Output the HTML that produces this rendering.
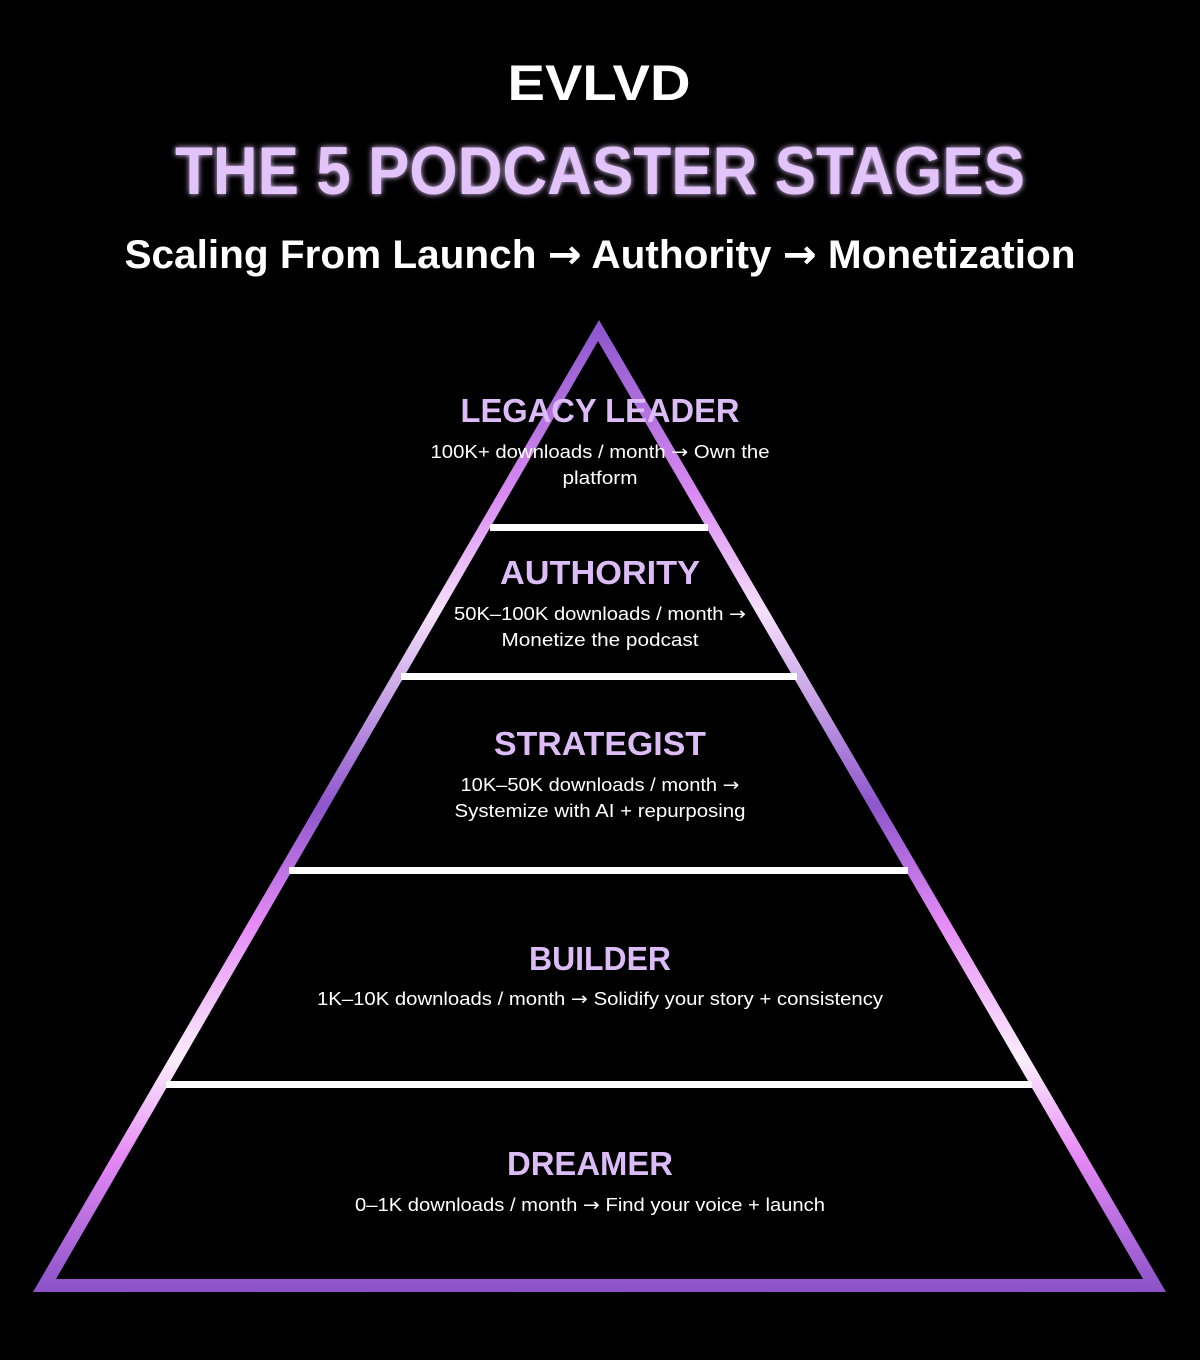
<!DOCTYPE html>
<html><head><meta charset="utf-8"><style>
html,body{margin:0;padding:0;background:#000;}
svg{display:block;}
text{font-family:"Liberation Sans","DejaVu Sans",sans-serif;}
.a{font-family:"DejaVu Sans",sans-serif;}
</style></head><body>
<svg width="1200" height="1360" viewBox="0 0 1200 1360" xmlns="http://www.w3.org/2000/svg">
<defs>
<linearGradient id="g" x1="0" y1="320" x2="0" y2="1292" gradientUnits="userSpaceOnUse">
<stop offset="0" stop-color="#8a55cc"/>
<stop offset="0.18" stop-color="#d98af2"/>
<stop offset="0.3" stop-color="#f6e0fb"/>
<stop offset="0.5" stop-color="#8d56cc"/>
<stop offset="0.62" stop-color="#e58af7"/>
<stop offset="0.76" stop-color="#fbeefd"/>
<stop offset="0.86" stop-color="#e68af6"/>
<stop offset="1" stop-color="#8a52c8"/>
</linearGradient>
<filter id="glow" x="-10%" y="-30%" width="120%" height="160%">
<feGaussianBlur stdDeviation="3" result="b"/>
<feMerge><feMergeNode in="b"/><feMergeNode in="SourceGraphic"/></feMerge>
</filter>
</defs>
<rect width="1200" height="1360" fill="#000"/>
<text x="599" y="100" text-anchor="middle" font-size="50" font-weight="bold" fill="#fff" textLength="183" lengthAdjust="spacingAndGlyphs">EVLVD</text>
<text x="600" y="194" text-anchor="middle" font-size="68" font-weight="bold" fill="#e3c4fa" filter="url(#glow)" textLength="850" lengthAdjust="spacingAndGlyphs">THE 5 PODCASTER STAGES</text>
<text x="600" y="268" text-anchor="middle" font-size="40" font-weight="bold" fill="#fff" textLength="951" lengthAdjust="spacingAndGlyphs">Scaling From Launch <tspan class="a">→</tspan>  Authority <tspan class="a">→</tspan>  Monetization</text>

<path d="M599 320 L1166 1292 L33 1292 Z M598 341 L56 1279 L1143 1279 Z" fill="url(#g)" fill-rule="evenodd"/>

<rect x="490" y="524" width="218" height="7" fill="#fff"/>
<rect x="401" y="673" width="396" height="7" fill="#fff"/>
<rect x="289" y="867" width="619" height="7" fill="#fff"/>
<rect x="166" y="1081" width="866" height="7" fill="#fff"/>

<g font-weight="bold" font-size="33" fill="#dcbcf6" text-anchor="middle">
<text x="600" y="422" textLength="279" lengthAdjust="spacingAndGlyphs">LEGACY LEADER</text>
<text x="600" y="584" textLength="200" lengthAdjust="spacingAndGlyphs">AUTHORITY</text>
<text x="600" y="755" textLength="212" lengthAdjust="spacingAndGlyphs">STRATEGIST</text>
<text x="600" y="970" textLength="142" lengthAdjust="spacingAndGlyphs">BUILDER</text>
<text x="590" y="1175" textLength="166" lengthAdjust="spacingAndGlyphs">DREAMER</text>
</g>
<g font-size="18" fill="#fff" text-anchor="middle">
<text x="600" y="458" textLength="339" lengthAdjust="spacingAndGlyphs">100K+ downloads / month <tspan class="a">→</tspan> Own the</text>
<text x="600" y="484" textLength="75" lengthAdjust="spacingAndGlyphs">platform</text>
<text x="600" y="620" textLength="292" lengthAdjust="spacingAndGlyphs">50K–100K downloads / month <tspan class="a">→</tspan></text>
<text x="600" y="646" textLength="197" lengthAdjust="spacingAndGlyphs">Monetize the podcast</text>
<text x="600" y="791" textLength="279" lengthAdjust="spacingAndGlyphs">10K–50K downloads / month <tspan class="a">→</tspan></text>
<text x="600" y="817" textLength="291" lengthAdjust="spacingAndGlyphs">Systemize with AI + repurposing</text>
<text x="600" y="1005" textLength="566" lengthAdjust="spacingAndGlyphs">1K–10K downloads / month <tspan class="a">→</tspan> Solidify your story + consistency</text>
<text x="590" y="1211" textLength="470" lengthAdjust="spacingAndGlyphs">0–1K downloads / month <tspan class="a">→</tspan> Find your voice + launch</text>
</g>
</svg>
</body></html>
